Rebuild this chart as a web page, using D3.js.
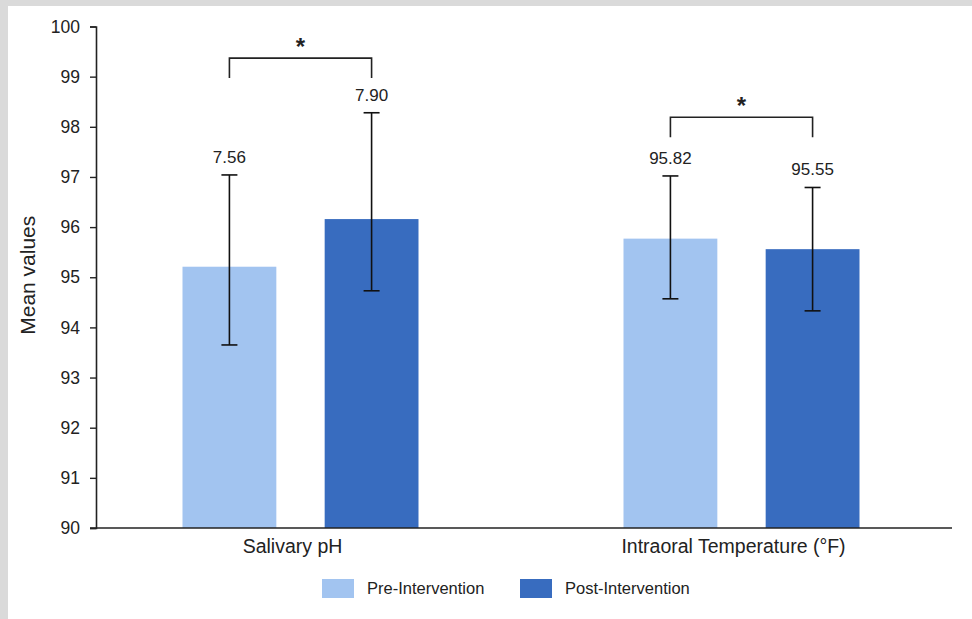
<!DOCTYPE html>
<html>
<head>
<meta charset="utf-8">
<script src="https://cdn.jsdelivr.net/npm/d3@7"></script>
<style>
  body { margin: 0; background: #fff; }
  text { font-family: "Liberation Sans", Arial, sans-serif; fill: #222; }
</style>
</head>
<body>
<div id="chart"></div>
<script>
var width = 972;
var height = 619;

// data
var categories = ["Salivary pH", "Intraoral Temperature (°F)"];
var seriesNames = ["Pre-Intervention", "Post-Intervention"];
var preValues = [95.21, 95.77];
var postValues = [96.16, 95.56];
var preLow = [93.65, 94.57];
var preHigh = [97.04, 97.02];
var postLow = [94.73, 94.33];
var postHigh = [98.28, 96.79];
var preLabels = ["7.56", "95.82"];
var postLabels = ["7.90", "95.55"];
var bracketLevels = [99.37, 98.19];
var yTicks = [90, 91, 92, 93, 94, 95, 96, 97, 98, 99, 100];

var colors = { "Pre-Intervention": "#a2c4f0", "Post-Intervention": "#386cbf" };

var rows = categories.map(function(c, i) {
    return {
        category: c,
        bars: [
            { key: seriesNames[0], value: preValues[i], lo: preLow[i], hi: preHigh[i], label: preLabels[i] },
            { key: seriesNames[1], value: postValues[i], lo: postLow[i], hi: postHigh[i], label: postLabels[i] }
        ],
        bracket: bracketLevels[i]
    };
});

var svg = d3.select("#chart")
    .append("svg")
    .attr("width", width)
    .attr("height", height);

// grey frame on top/left
svg.append("rect").attr("x", 0).attr("y", 0).attr("width", width).attr("height", 6).attr("fill", "#dadada");
svg.append("rect").attr("x", 0).attr("y", 0).attr("width", 8).attr("height", height).attr("fill", "#dadada");

var axisLeftX = 96;
var axisRightX = 952;

var yScale = d3.scaleLinear()
    .domain([90, 100])
    .range([528, 26.5]);

var xScale = d3.scaleBand()
    .domain(categories)
    .range([80, 962])
    .padding(0);

var xSub = d3.scaleBand()
    .domain(seriesNames)
    .range([-118, 118])
    .paddingInner(0.34)
    .paddingOuter(0);

// y axis
var yAxis = svg.append("g")
    .attr("transform", "translate(" + axisLeftX + ",0)")
    .call(d3.axisLeft(yScale).tickValues(yTicks).tickSize(6).tickPadding(10).tickFormat(d3.format("d")));
yAxis.select(".domain").attr("stroke", "#222").attr("stroke-width", 1.6);
yAxis.selectAll(".tick line").attr("stroke", "#222").attr("stroke-width", 1.4);
yAxis.selectAll(".tick text").style("font-size", "17.5px").attr("fill", "#222")
    .style("font-family", "'Liberation Sans', Arial, sans-serif");

svg.append("text")
    .attr("transform", "translate(35," + (yScale(95) - 2) + ") rotate(-90)")
    .attr("text-anchor", "middle")
    .style("font-size", "21px")
    .text("Mean values");

// groups
var groups = svg.selectAll("g.group")
    .data(rows)
    .enter()
    .append("g")
    .attr("class", "group")
    .attr("transform", function(d) {
        return "translate(" + (xScale(d.category) + xScale.bandwidth() / 2) + ",0)";
    });

groups.selectAll("rect")
    .data(function(d) { return d.bars; })
    .enter()
    .append("rect")
    .attr("x", function(d) { return xSub(d.key); })
    .attr("y", function(d) { return yScale(d.value); })
    .attr("width", xSub.bandwidth())
    .attr("height", function(d) { return yScale(90) - yScale(d.value); })
    .attr("fill", function(d) { return colors[d.key]; });

// error bars
var err = groups.selectAll("g.err")
    .data(function(d) { return d.bars; })
    .enter()
    .append("g")
    .attr("class", "err")
    .attr("transform", function(d) { return "translate(" + (xSub(d.key) + xSub.bandwidth() / 2) + ",0)"; });

err.append("line")
    .attr("x1", 0).attr("x2", 0)
    .attr("y1", function(d) { return yScale(d.lo); })
    .attr("y2", function(d) { return yScale(d.hi); })
    .attr("stroke", "#111").attr("stroke-width", 1.6);
err.append("line")
    .attr("x1", -8).attr("x2", 8)
    .attr("y1", function(d) { return yScale(d.hi); })
    .attr("y2", function(d) { return yScale(d.hi); })
    .attr("stroke", "#111").attr("stroke-width", 1.6);
err.append("line")
    .attr("x1", -8).attr("x2", 8)
    .attr("y1", function(d) { return yScale(d.lo); })
    .attr("y2", function(d) { return yScale(d.lo); })
    .attr("stroke", "#111").attr("stroke-width", 1.6);
err.append("text")
    .attr("x", 0)
    .attr("y", function(d) { return yScale(d.hi) - 12; })
    .attr("text-anchor", "middle")
    .style("font-size", "17px")
    .text(function(d) { return d.label; });

// significance brackets
groups.append("path")
    .attr("d", function(d) {
        var x1 = xSub(seriesNames[0]) + xSub.bandwidth() / 2;
        var x2 = xSub(seriesNames[1]) + xSub.bandwidth() / 2;
        var y = yScale(d.bracket);
        return "M" + x1 + "," + (y + 20) + "V" + y + "H" + x2 + "V" + (y + 20);
    })
    .attr("fill", "none")
    .attr("stroke", "#222")
    .attr("stroke-width", 1.6);
groups.append("text")
    .attr("x", 0)
    .attr("y", function(d) { return yScale(d.bracket) - 3; })
    .attr("text-anchor", "middle")
    .style("font-size", "24px")
    .style("font-weight", "bold")
    .text("*");

// x axis
svg.append("line")
    .attr("x1", axisLeftX - 6).attr("x2", axisRightX)
    .attr("y1", yScale(90)).attr("y2", yScale(90))
    .attr("stroke", "#222").attr("stroke-width", 1.6);

svg.selectAll("text.cat")
    .data(categories)
    .enter()
    .append("text")
    .attr("class", "cat")
    .attr("x", function(d) { return xScale(d) + xScale.bandwidth() / 2 - 8; })
    .attr("y", 553)
    .attr("text-anchor", "middle")
    .style("font-size", "19.5px")
    .text(function(d) { return d; });

// legend
var legendX = [322, 520];
var legend = svg.selectAll("g.legend")
    .data(seriesNames)
    .enter()
    .append("g")
    .attr("class", "legend")
    .attr("transform", function(d, i) { return "translate(" + legendX[i] + ",579)"; });
legend.append("rect")
    .attr("width", 32).attr("height", 19)
    .attr("fill", function(d) { return colors[d]; });
legend.append("text")
    .attr("x", 45).attr("y", 15)
    .style("font-size", "16.5px")
    .text(function(d) { return d; });
</script>
</body>
</html>
